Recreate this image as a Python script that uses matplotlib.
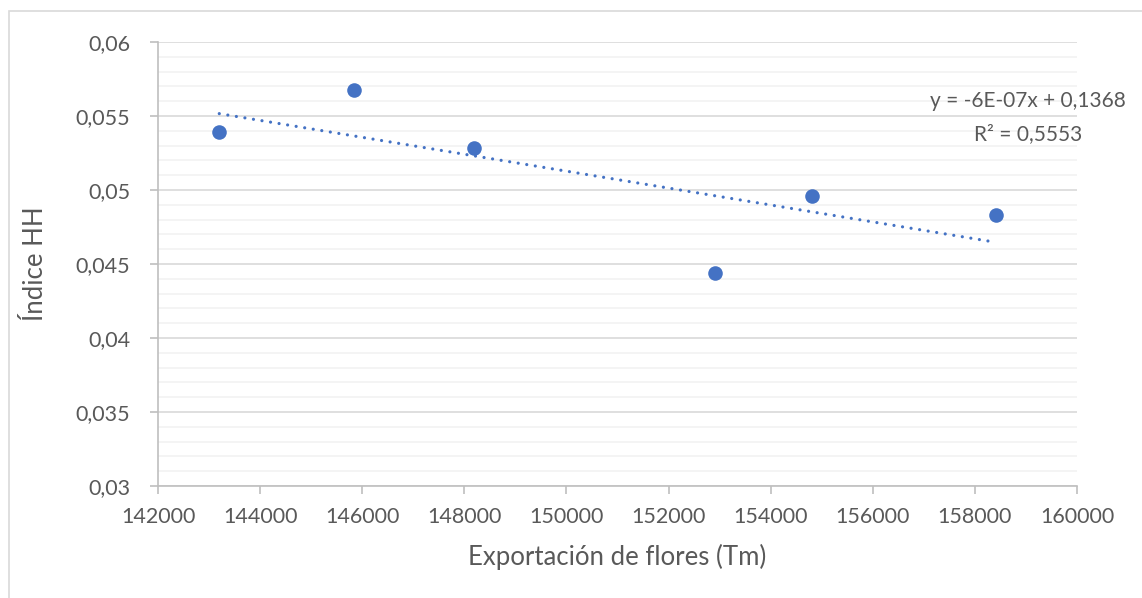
import matplotlib.pyplot as plt
import numpy as np
from matplotlib.ticker import MultipleLocator, FuncFormatter
from matplotlib.patches import Rectangle

# Data
exportacion = [143200, 145840, 148190, 152910, 154810, 158410]
indice_hh = [0.05390, 0.05675, 0.05282, 0.04437, 0.04958, 0.04830]

x_ticks = [142000, 144000, 146000, 148000, 150000, 152000, 154000, 156000, 158000, 160000]
y_ticks = [0.03, 0.035, 0.04, 0.045, 0.05, 0.055, 0.06]

txt = '#595959'
blue = '#4472C4'
plt.rcParams['font.family'] = ['Lato', 'DejaVu Sans']

fig = plt.figure(figsize=(11.42, 5.98), dpi=100)
ax = fig.add_axes([158 / 1142, 1 - 486 / 598, (1077 - 158) / 1142, (486 - 42) / 598])

# outer chart border
fig.patches.append(Rectangle((9 / 1142, -0.1), 1.2, 1 - 11 / 598 + 0.1,
                             transform=fig.transFigure, fill=False,
                             edgecolor='#d9d9d9', linewidth=1.2))

ax.scatter(exportacion, indice_hh, s=110, color=blue, zorder=4, linewidths=0)

# linear trend line (round dots)
slope, inter = np.polyfit(exportacion, indice_hh, 1)
xs = np.array([min(exportacion), max(exportacion)])
ax.plot(xs, slope * xs + inter, linestyle=(0, (0.01, 2.7)), color=blue,
        linewidth=2.3, dash_capstyle='round', zorder=3)

ax.text(1028 / 1142, 1 - 101 / 598, 'y = -6E-07x + 0,1368', transform=fig.transFigure,
        ha='center', va='center', fontsize=15, color=txt)
ax.text(1028 / 1142, 1 - 134 / 598, 'R² = 0,5553', transform=fig.transFigure,
        ha='center', va='center', fontsize=15, color=txt)

ax.set_xlim(142000, 160000)
ax.set_ylim(0.03, 0.06)
ax.set_xticks(x_ticks)
ax.set_yticks(y_ticks)
ax.yaxis.set_minor_locator(MultipleLocator(0.001))
ax.yaxis.set_major_formatter(FuncFormatter(lambda v, p: ('%g' % round(v, 4)).replace('.', ',')))

ax.grid(True, which='major', axis='y', color='#d9d9d9', linewidth=1.2)
ax.grid(True, which='minor', axis='y', color='#f2f2f2', linewidth=1.2)
ax.set_axisbelow(True)

for s in ['top', 'right']:
    ax.spines[s].set_visible(False)
for s in ['left', 'bottom']:
    ax.spines[s].set_color('#bfbfbf')
    ax.spines[s].set_linewidth(1.2)

ax.tick_params(axis='both', which='major', colors='#bfbfbf', labelcolor=txt,
               labelsize=15.5, length=6, width=1.2)
ax.tick_params(axis='y', which='minor', length=0)
ax.tick_params(axis='x', pad=9)
ax.tick_params(axis='y', pad=14)

ax.set_xlabel('Exportación de flores (Tm)', fontsize=18.5, color=txt, va='center')
ax.set_ylabel('Índice HH', fontsize=18.5, color=txt, va='center')
ax.xaxis.set_label_coords(0.5, -(557 - 486) / 444)
ax.yaxis.set_label_coords(-(158 - 35) / 919, 0.5)

fig.savefig('out.png', dpi=100)
